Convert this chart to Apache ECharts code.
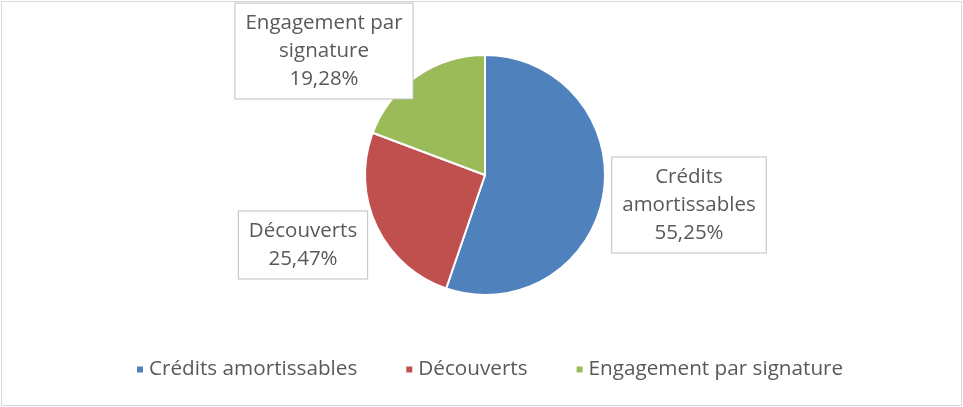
<!DOCTYPE html>
<html>
<head>
<meta charset="utf-8">
<script src="https://cdn.jsdelivr.net/npm/echarts@6/dist/echarts.min.js"></script>
<style>
html,body{margin:0;padding:0;background:#fff;}
#chart{width:959px;height:403px;border:1px solid #d9d9d9;margin:1px;box-sizing:content-box;}
</style>
</head>
<body>
<div id="chart"></div>
<script>
const categories = ['Crédits amortissables', 'Découverts', 'Engagement par signature'];
const labelNames = ['Crédits\namortissables', 'Découverts', 'Engagement par\nsignature'];
const values = [55.25, 25.47, 19.28];
const colors = ['#4f81bd', '#c0504d', '#9bbb59'];

const labelPos = [[687, 203], [301, 243], [322, 49]];

const chart = echarts.init(document.getElementById('chart'));
chart.setOption({
  animation: false,
  color: colors,
  legend: {
    top: 352,
    left: 128,
    icon: 'rect',
    itemWidth: 8,
    itemHeight: 8,
    itemGap: 47,
    textStyle: { fontFamily: 'Open Sans', fontSize: 20.7, color: '#595959' },
    data: categories
  },
  series: [{
    type: 'pie',
    center: [483, 173],
    radius: 120,
    startAngle: 90,
    clockwise: true,
    itemStyle: { borderColor: '#fff', borderWidth: 2 },
    label: {
      show: true,
      position: 'outside',
      formatter: function (p) {
        return labelNames[p.dataIndex] + '\n' + values[p.dataIndex].toFixed(2).replace('.', ',') + '%';
      },
      fontFamily: 'Open Sans',
      fontSize: 20.5,
      lineHeight: 28,
      color: '#595959',
      align: 'center',
      backgroundColor: '#fff',
      borderColor: '#bfbfbf',
      borderWidth: 1,
      padding: [6, 10, 5, 10]
    },
    labelLine: { show: false },
    labelLayout: function (params) {
      const p = labelPos[params.dataIndex];
      return { x: p[0], y: p[1], align: 'center', verticalAlign: 'middle' };
    },
    data: categories.map((c, i) => ({ name: c, value: values[i] }))
  }]
});
</script>
</body>
</html>
